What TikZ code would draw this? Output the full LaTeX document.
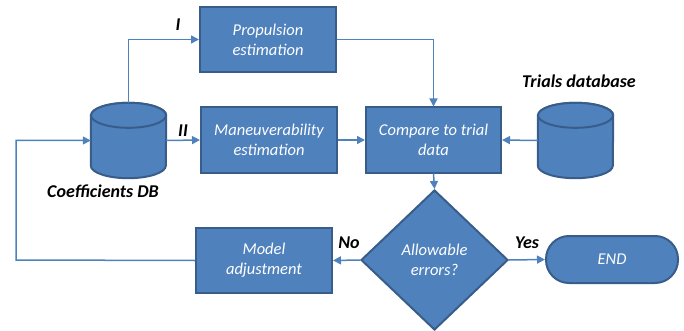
\documentclass[tikz,border=0pt]{standalone}
\usepackage{fontspec}
\setmainfont{Carlito}
\usepackage{xcolor}
\usepackage{tikz}
\usetikzlibrary{positioning,calc,shapes.geometric,arrows.meta}

\definecolor{boxfill}{HTML}{4F81BD}
\definecolor{boxline}{HTML}{385D8A}

\begin{document}
\begin{tikzpicture}[
		x=1pt, y=-1pt,
		font=\fontsize{16.5}{20}\selectfont,
		% Style for the process boxes
		procbox/.style={rectangle, draw=boxline, fill=boxfill, line width=2pt,
			minimum width=136pt, minimum height=65pt, inner sep=2pt,
			text=white, font=\fontsize{16.5}{20}\selectfont\itshape, align=center},
		% Style for the databases (only a frame, the can is drawn below)
		dbase/.style={rectangle, minimum width=75pt, minimum height=75pt, inner sep=0pt},
		dbdraw/.style={draw=boxline, fill=boxfill, line width=2pt},
		% Style for the decision
		decide/.style={diamond, draw=boxline, fill=boxfill, line width=2pt,
			minimum width=147pt, minimum height=140pt, inner sep=0pt,
			text=white, font=\fontsize{16.5}{20}\selectfont\itshape, align=center},
		% Style for the terminal
		termbox/.style={rectangle, rounded corners=23pt, draw=boxline, fill=boxfill,
			line width=2pt, minimum width=132pt, minimum height=47pt,
			text=white, font=\fontsize{16.5}{20}\selectfont\itshape},
		% Style for the black labels
		tag/.style={font=\fontsize{18}{20}\selectfont\bfseries\itshape},
		% Style for the connectors
		flow/.style={draw=boxfill, line width=1.5pt,
			-{Triangle[length=8pt,width=8pt]}}
	]
	\useasboundingbox (0,0) rectangle (684,331);
	
	% ================= Databases =================
	\node[dbase] (coeff) at (128.5,140.5) {};
	\node[tag] (coefflbl) at (103,191) {Coefficients DB};
	
	\node[dbase] (trials) at (575.5,140.5) {};
	\node[tag] (trialslbl) at (579,81) {Trials database};
	
	% the cans
	\foreach \db in {coeff,trials}{
		\draw[dbdraw] ($(\db.north west)+(0,12.5)$) -- ($(\db.south west)+(0,-12.5)$)
			arc[start angle=180, end angle=0, x radius=37.5, y radius=12.5]
			-- ($(\db.north east)+(0,12.5)$)
			arc[start angle=0, end angle=-180, x radius=37.5, y radius=12.5] -- cycle;
		\draw[dbdraw] ($(\db.north)+(0,12.5)$) ellipse[x radius=37.5, y radius=12.5];
	}
	
	% ================= Estimation boxes =================
	\node[procbox] (prop) at (268,39.5) {Propulsion\\estimation};
	\node[procbox] (maneu) at (269,140) {Maneuverability\\estimation};
	
	% ================= Comparison and decision =================
	\node[procbox, minimum width=135pt] (compare) at (433.5,140) {Compare to trial\\data};
	\node[decide] (check) at (434.5,260) {Allowable\\errors?};
	
	\node[procbox] (model) at (264,260.5) {Model\\adjustment};
	\node[termbox] (finish) at (612,259.5) {END};
	
	% ================= Connectors =================
	\draw[flow] (coeff.north) |- (prop.west);
	\draw[flow] (coeff.east) -- (maneu.west);
	\node[tag] (one) at (178,25) {I};
	\node[tag] (two) at (183,131) {II};
	
	\draw[flow] (prop.east) -| (compare.north);
	\draw[flow] (maneu.east) -- (compare.west);
	\draw[flow] (trials.west) -- (compare.east);
	\draw[flow] (compare.south) -- (check.north);
	
	\draw[flow] (check.west) -- (model.east);
	\node[tag] (no) at (349,243) {No};
	\draw[flow] (check.east) -- (finish.west);
	\node[tag] (yes) at (527,243) {Yes};
	
	% loop back to the coefficients
	\coordinate (back) at (16,260);
	\draw[flow] (model.west) -- (back) |- (coeff.west);
	
\end{tikzpicture}
\end{document}
